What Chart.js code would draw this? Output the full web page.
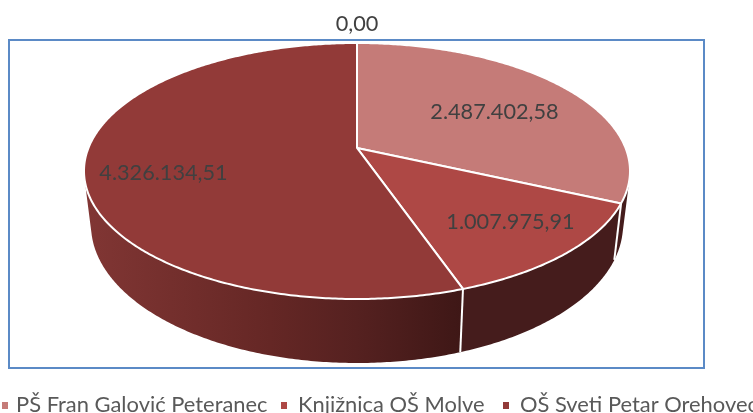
<!DOCTYPE html>
<html>
<head>
<meta charset="utf-8">
<style>
  html, body { margin: 0; padding: 0; background: #fff; overflow: hidden; }
  canvas { display: block; }
</style>
<script src="https://cdn.jsdelivr.net/npm/chart.js@4/dist/chart.umd.min.js"></script>
</head>
<body>
<canvas id="chart" width="753" height="413"></canvas>
<script>
const categories = ['PŠ Fran Galović Peteranec', 'Knjižnica OŠ Molve', 'OŠ Sveti Petar Orehovec', '']
const values = [2487402.58, 1007975.91, 4326134.51, 0]
const valueLabels = ['2.487.402,58', '1.007.975,91', '4.326.134,51', '0,00']
const topColors = ['#c57b78', '#ae4845', '#923a38', '#7a2f2d']

const FONT = 'Lato, "Open Sans", sans-serif'

// the 3d look: top and bottom rim are ellipses, the hub sits off centre (perspective)
const TOP = { cx: 357, cy: 171, rx: 273, ry: 128 }
const BOTTOM = { cx: 357, cy: 225, rx: 266, ry: 138 }
const SKEW = -0.18

const labelPlaces = [[494.5, 112], [510.5, 222], [163.5, 173], [357, 24]]
const legendPlaces = [[2, 16], [281, 298], [503, 520]]

function project (rim, angle, r = 1) {
  const u = Math.cos(angle) * r
  const v = Math.sin(angle) * r
  const d = 1 + SKEW * v
  return [
    rim.cx + rim.rx * u * Math.sqrt(1 - SKEW * SKEW) / d,
    rim.cy + rim.ry * (v + SKEW) / d
  ]
}

function rimPath (ctx, rim, from, to) {
  const steps = Math.max(2, Math.ceil(Math.abs(to - from) / 0.01))
  for (let i = 0; i <= steps; i++) {
    ctx.lineTo(...project(rim, from + (to - from) * i / steps))
  }
}

// one strip of the side wall, always wound the same way so strips never cancel out
function addStrip (ctx, a, b) {
  const pts = [project(TOP, a), project(TOP, b), project(BOTTOM, b), project(BOTTOM, a)]
  let area = 0
  pts.forEach((p, i) => {
    const q = pts[(i + 1) % 4]
    area += p[0] * q[1] - q[0] * p[1]
  })
  if (area < 0) pts.reverse()
  ctx.moveTo(...pts[0])
  pts.slice(1).forEach(p => ctx.lineTo(...p))
  ctx.closePath()
}

const pie3d = {
  id: 'pie3d',
  beforeDatasetsDraw (chart) {
    const ctx = chart.ctx
    const arcs = chart.getDatasetMeta(0).data

    const grad = ctx.createLinearGradient(85, 0, 463, 0)
    grad.addColorStop(0, '#813634')
    grad.addColorStop(0.49, '#652725')
    grad.addColorStop(0.72, '#552120')
    grad.addColorStop(1, '#3e1716')
    const wallColors = ['#451c1c', '#451c1c', grad, '#451c1c']

    ctx.save()
    ctx.lineJoin = 'round'

    // side wall
    arcs.forEach((arc, i) => {
      const span = arc.endAngle - arc.startAngle
      if (span <= 0) return
      const steps = Math.ceil(span / 0.01)
      ctx.beginPath()
      for (let s = 0; s < steps; s++) {
        addStrip(ctx, arc.startAngle + span * s / steps, arc.startAngle + span * (s + 1) / steps)
      }
      ctx.fillStyle = wallColors[i]
      ctx.fill()
    })
    ctx.strokeStyle = '#fff'
    ctx.lineWidth = 2
    arcs.forEach(arc => {
      if (arc.endAngle - arc.startAngle <= 0) return
      ctx.beginPath()
      ctx.moveTo(...project(TOP, arc.endAngle))
      ctx.lineTo(...project(BOTTOM, arc.endAngle))
      ctx.stroke()
    })

    // top face
    arcs.forEach(arc => {
      if (arc.endAngle - arc.startAngle <= 0) return
      ctx.beginPath()
      ctx.moveTo(...project(TOP, 0, 0))
      rimPath(ctx, TOP, arc.startAngle, arc.endAngle)
      ctx.closePath()
      ctx.fillStyle = arc.options.backgroundColor
      ctx.fill()
      ctx.stroke()
    })
    ctx.restore()
    return false
  },
  afterDraw (chart) {
    const ctx = chart.ctx
    ctx.save()
    ctx.font = '21.7px ' + FONT
    ctx.textAlign = 'center'
    ctx.textBaseline = 'middle'
    ctx.fillStyle = '#404040'
    valueLabels.forEach((t, i) => ctx.fillText(t, ...labelPlaces[i]))

    ctx.font = '21.9px ' + FONT
    ctx.textAlign = 'left'
    ctx.textBaseline = 'alphabetic'
    legendPlaces.forEach(([bx, tx], i) => {
      ctx.fillStyle = topColors[i]
      ctx.fillRect(bx, 402, 6, 7)
      ctx.fillStyle = '#595959'
      ctx.fillText(categories[i], tx, 412)
    })
    ctx.restore()
  },
  beforeDraw (chart) {
    const ctx = chart.ctx
    ctx.save()
    ctx.fillStyle = '#fff'
    ctx.fillRect(0, 0, 753, 413)
    ctx.strokeStyle = '#5b8ac6'
    ctx.lineWidth = 2
    ctx.strokeRect(9, 40, 695, 328)
    ctx.restore()
  }
}

new Chart(document.getElementById('chart'), {
  type: 'pie',
  data: {
    labels: categories,
    datasets: [{ data: values, backgroundColor: topColors, borderWidth: 0 }]
  },
  options: {
    responsive: false,
    animation: false,
    plugins: { legend: { display: false }, tooltip: { enabled: false } }
  },
  plugins: [pie3d]
})
</script>
</body>
</html>
